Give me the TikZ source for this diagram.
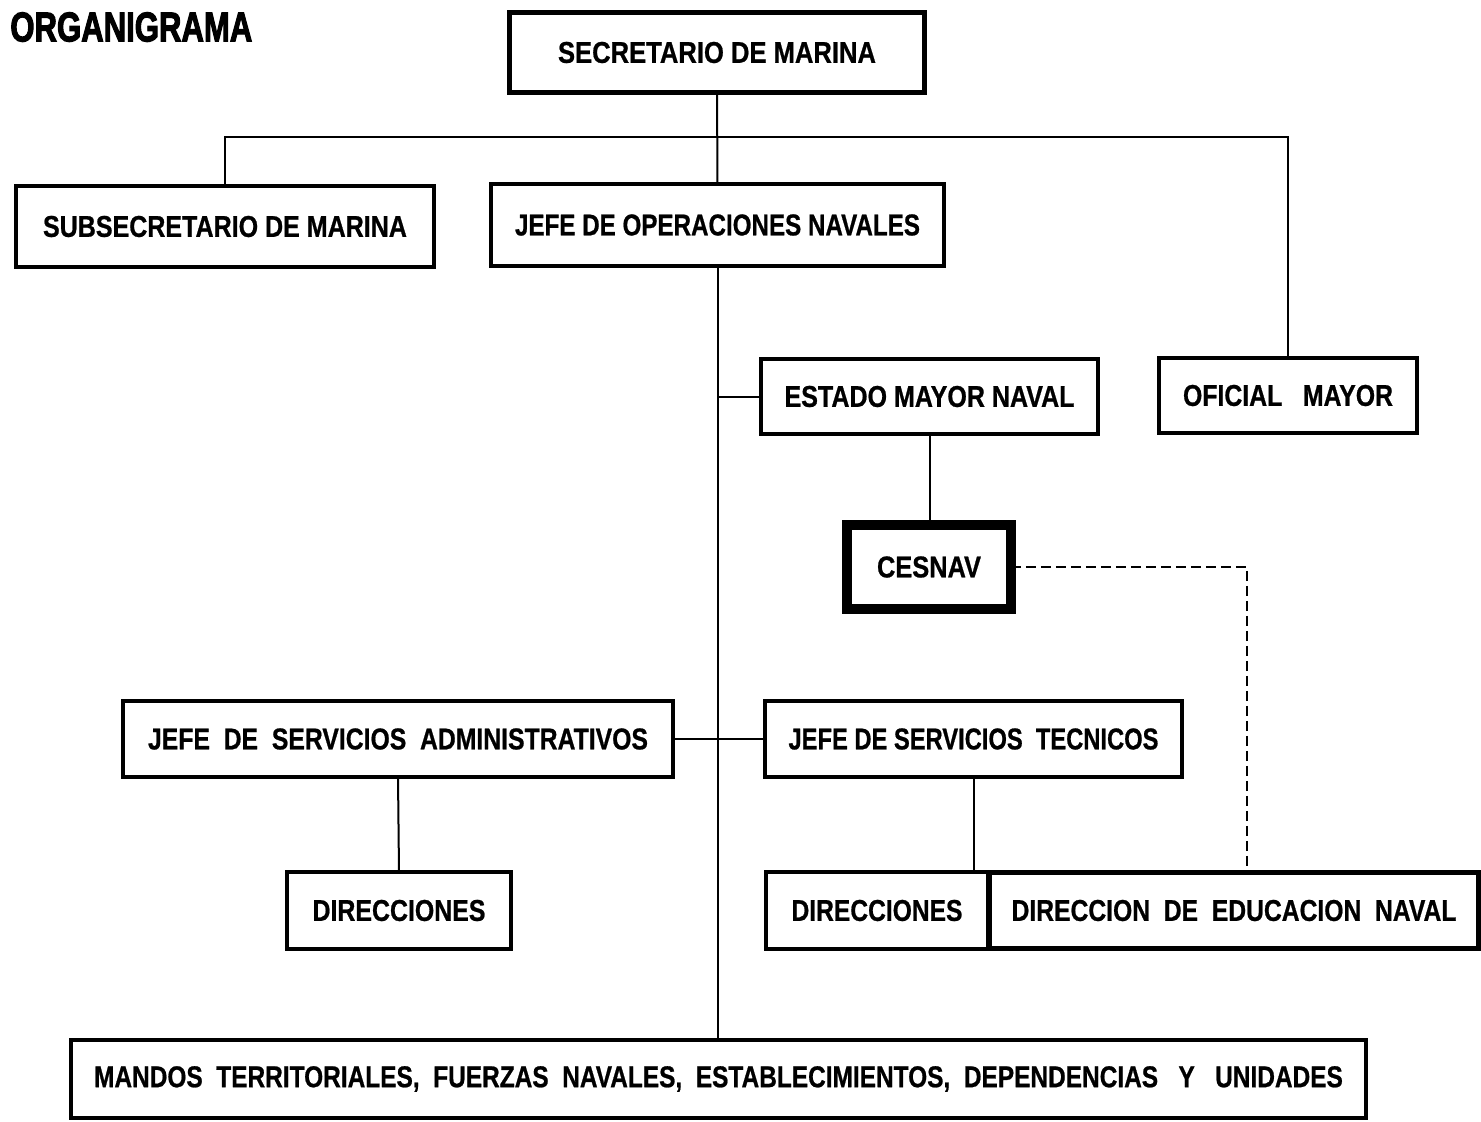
\documentclass[tikz,border=0pt]{standalone}
\usepackage{fontspec}
\usepackage{graphicx}
\setmainfont{Liberation Sans}[FakeBold=0.8]
\newfontfamily\titlefont{Liberation Sans}[FakeBold=3]

\newcommand{\lbl}[2]{\resizebox{#1}{0.42cm}{\bfseries #2}}

\tikzset{
	orgbox/.style={draw,rectangle,line width=0.08cm,inner sep=0,outer sep=0},
	heavybox/.style={orgbox,line width=0.2cm},
	link/.style={line width=0.04cm},
}

\begin{document}
\begin{tikzpicture}[x=0.02cm,y=-0.02cm]
	\useasboundingbox (0,0) rectangle (1481,1122);
	\node[anchor=north west,inner sep=0] (titulo) at (10,12) {\resizebox{4.84cm}{0.58cm}{\titlefont\bfseries ORGANIGRAMA}};
	\node[orgbox,line width=0.09cm,minimum width=8.3cm,minimum height=1.6cm] (sec) at (717,52.5) {\lbl{6.36cm}{SECRETARIO~DE~MARINA}};
	\node[orgbox,minimum width=8.36cm,minimum height=1.62cm] (subsec) at (225,226.5) {\lbl{7.28cm}{SUBSECRETARIO~DE~MARINA}};
	\node[orgbox,minimum width=9.06cm,minimum height=1.64cm] (jefeop) at (717.5,225) {\lbl{8.1cm}{JEFE DE OPERACIONES~NAVALES}};
	\node[orgbox,minimum width=6.74cm,minimum height=1.5cm] (estado) at (929.5,396.5) {\lbl{5.8cm}{ESTADO MAYOR~NAVAL}};
	\node[orgbox,minimum width=5.16cm,minimum height=1.5cm] (oficial) at (1288,395.5) {\lbl{4.2cm}{OFICIAL~~~MAYOR}};
	\node[heavybox,minimum width=3.28cm,minimum height=1.68cm] (cesnav) at (929,567) {\lbl{2.08cm}{CESNAV}};
	\node[orgbox,minimum width=11cm,minimum height=1.52cm] (admin) at (398,739) {\lbl{10cm}{JEFE~~DE~~SERVICIOS~~ADMINISTRATIVOS}};
	\node[orgbox,minimum width=8.34cm,minimum height=1.52cm] (tecnicos) at (973.5,739) {\lbl{7.4cm}{JEFE DE SERVICIOS~~TECNICOS}};
	\node[orgbox,minimum width=4.48cm,minimum height=1.54cm] (dirA) at (399,910.5) {\lbl{3.46cm}{DIRECCIONES}};
	\node[orgbox,minimum width=4.46cm,minimum height=1.54cm] (dirB) at (877,910.5) {\lbl{3.42cm}{DIRECCIONES}};
	\node[orgbox,line width=0.1cm,minimum width=9.78cm,minimum height=1.52cm] (edunav) at (1234,910.5) {\lbl{8.9cm}{DIRECCION~~DE~~EDUCACION~~NAVAL}};
	\node[orgbox,minimum width=25.9cm,minimum height=1.56cm] (mandos) at (718.5,1079) {\lbl{24.98cm}{MANDOS~~TERRITORIALES,~~FUERZAS~~NAVALES,~~ESTABLECIMIENTOS,~~DEPENDENCIAS~~~Y~~~UNIDADES}};
	\coordinate (barL) at (225,137);
	\coordinate (barR) at (1288,137);
	\coordinate (eduDash) at (1247,870);
	\draw[link] (sec) -- (jefeop);
	\draw[link] (subsec.north) -- (barL) -- (barR) -- (oficial.north);
	\draw[link] (jefeop.south) -- (jefeop.south |- mandos.north);
	\draw[link] (estado.west) -- (estado.west -| jefeop.south);
	\draw[link] (estado.south) -- (estado.south |- cesnav.north);
	\draw[link,dash pattern=on 0.2cm off 0.1cm] (cesnav.east) -| (eduDash);
	\draw[link] (admin.east) -- (tecnicos.west);
	\draw[link] (admin.south) -- (dirA.north);
	\draw[link] (tecnicos.south) -- (tecnicos.south |- dirB.north);
\end{tikzpicture}
\end{document}
